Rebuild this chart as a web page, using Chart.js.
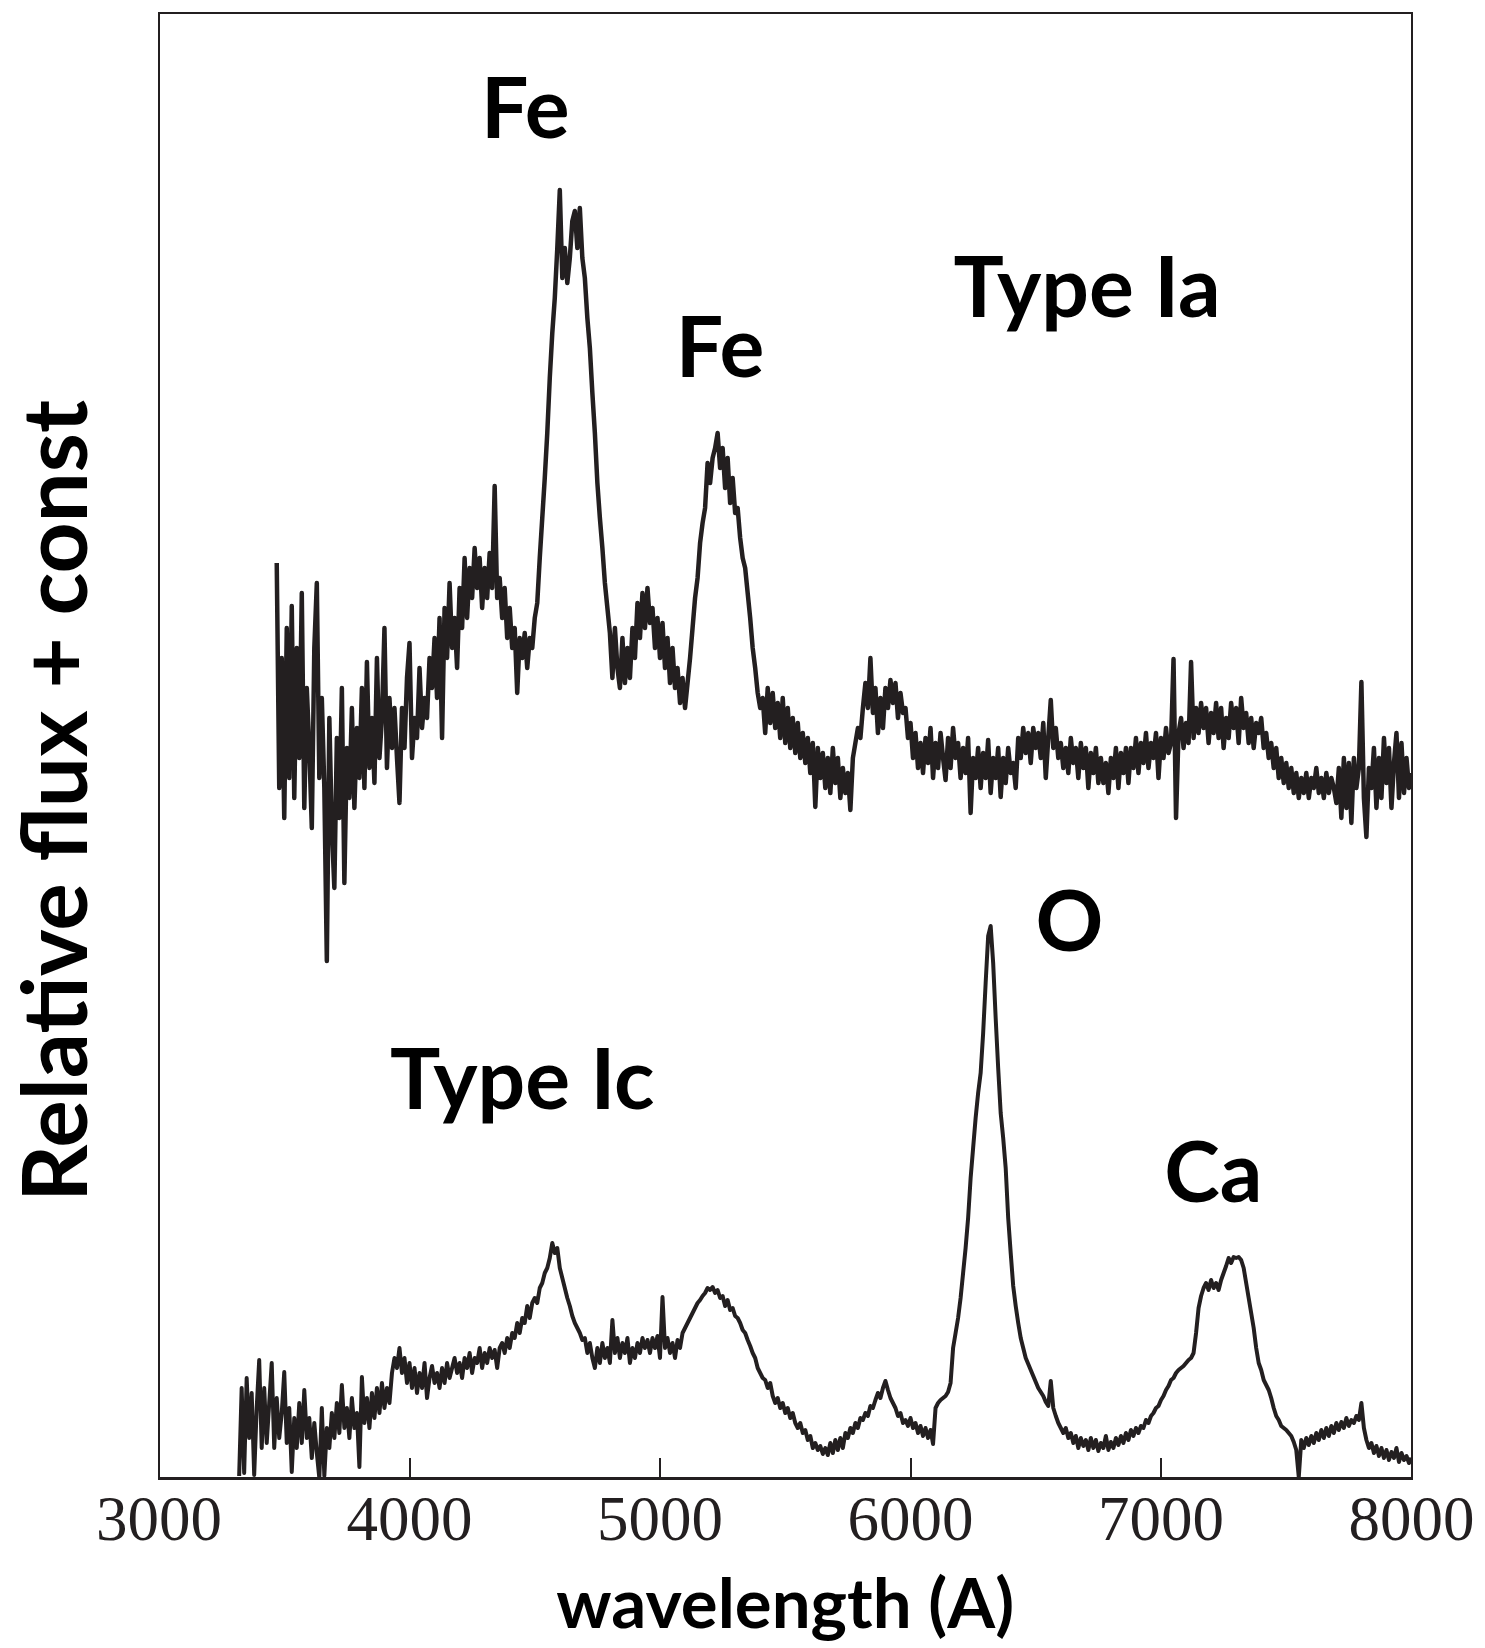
<!DOCTYPE html>
<html>
<head>
<meta charset="utf-8">
<title>Supernova spectra</title>
<script src="https://cdn.jsdelivr.net/npm/chart.js@4.4.1/dist/chart.umd.min.js"></script>
<style>
  html, body { margin: 0; padding: 0; background: #fff; }
  canvas { display: block; }
</style>
</head>
<body>
<canvas id="spectra" width="1485" height="1648"></canvas>
<script>
// both spectra are sampled on a 10 A grid
const iaStart = 3470;
const icStart = 3320;
const sampleStep = 10;

// Type Ia flux (+ const), 3470 .. 8000 A
const iaFlux = [
  9.15, 6.9, 8.2, 6.6, 8.5, 7.0, 8.72, 6.8, 8.3, 7.2,
  8.85, 6.7, 7.9, 7.3, 6.5, 8.3, 8.95, 7.0, 7.8, 6.9,
  5.17, 7.6, 6.5, 5.9, 7.4, 6.6, 7.9, 5.95, 7.3, 6.8,
  7.7, 6.7, 7.5, 7.0, 7.9, 6.9, 8.16, 7.1, 7.6, 6.95,
  8.2, 7.2, 7.6, 8.5, 7.1, 7.8, 7.3, 7.7, 7.2, 6.75,
  7.7, 7.3, 8.0, 8.35, 7.2, 7.6, 7.4, 8.1, 7.5, 7.8,
  7.6, 8.2, 7.9, 8.4, 7.8, 8.6, 7.4, 8.7, 8.2, 8.95,
  8.3, 8.6, 8.1, 8.9, 8.5, 9.2, 8.6, 9.1, 8.8, 9.3,
  8.9, 9.2, 8.7, 9.1, 8.8, 9.25, 8.9, 9.92, 8.8, 9.0,
  8.6, 8.9, 8.4, 8.7, 8.3, 8.5, 7.85, 8.4, 8.2, 8.45,
  8.1, 8.4, 8.3, 8.6, 8.75, 9.2, 9.6, 10.0, 10.45, 11.0,
  11.45, 11.8, 12.3, 12.88, 12.0, 12.3, 11.95, 12.2, 12.57, 12.67,
  12.3, 12.7, 12.2, 12.0, 11.6, 11.3, 10.85, 10.45, 9.95, 9.6,
  9.3, 8.95, 8.7, 8.45, 8.0, 8.5, 8.1, 7.9, 8.4, 7.95,
  8.3, 8.0, 8.5, 8.2, 8.75, 8.4, 8.85, 8.5, 8.9, 8.55,
  8.7, 8.3, 8.6, 8.2, 8.55, 8.1, 8.4, 7.95, 8.3, 7.9,
  8.1, 7.75, 8.0, 7.7, 7.95, 8.2, 8.5, 8.8, 9.0, 9.35,
  9.55, 9.7, 10.15, 9.95, 10.2, 10.3, 10.45, 10.1, 10.3, 9.9,
  10.2, 9.75, 10.0, 9.65, 9.7, 9.4, 9.2, 9.1, 8.85, 8.6,
  8.3, 8.1, 7.85, 7.7, 7.8, 7.45, 7.9, 7.55, 7.85, 7.5,
  7.75, 7.4, 7.8, 7.35, 7.7, 7.3, 7.6, 7.25, 7.55, 7.2,
  7.45, 7.15, 7.4, 7.05, 7.35, 6.71, 7.3, 7.0, 7.25, 6.9,
  7.2, 6.85, 7.3, 6.95, 7.2, 6.8, 7.1, 6.85, 7.05, 6.68,
  7.2, 7.35, 7.5, 7.4, 7.7, 7.95, 7.7, 8.2, 7.65, 7.9,
  7.45, 7.8, 7.5, 7.9, 7.7, 7.98, 7.75, 7.95, 7.6, 7.85,
  7.65, 7.7, 7.4, 7.55, 7.2, 7.45, 7.1, 7.35, 7.05, 7.4,
  7.15, 7.5, 7.0, 7.35, 7.1, 7.45, 7.2, 6.98, 7.4, 7.1,
  7.5, 7.2, 7.35, 7.0, 7.3, 7.05, 7.4, 6.65, 7.2, 7.0,
  7.3, 6.9, 7.25, 7.0, 7.38, 6.85, 7.2, 7.0, 7.3, 6.81,
  7.2, 6.95, 7.3, 7.05, 7.15, 6.9, 7.4, 7.2, 7.5, 7.25,
  7.45, 7.15, 7.5, 7.3, 7.45, 7.2, 7.55, 7.0, 7.4, 7.78,
  7.3, 7.5, 7.2, 7.35, 7.1, 7.3, 7.05, 7.4, 7.15, 7.3,
  7.0, 7.35, 7.1, 7.3, 6.9, 7.25, 7.05, 7.3, 6.95, 7.2,
  6.95, 7.15, 6.85, 7.2, 7.0, 7.3, 6.9, 7.25, 7.05, 7.3,
  6.95, 7.3, 7.1, 7.4, 7.05, 7.35, 7.15, 7.45, 7.1, 7.35,
  7.2, 7.45, 7.0, 7.4, 7.2, 7.5, 7.25, 7.35, 8.19, 6.6,
  7.45, 7.6, 7.3, 7.55, 7.35, 8.16, 7.4, 7.7, 7.45, 7.75,
  7.5, 7.7, 7.35, 7.65, 7.45, 7.75, 7.4, 7.7, 7.3, 7.6,
  7.4, 7.75, 7.5, 7.7, 7.35, 7.8, 7.5, 7.65, 7.35, 7.6,
  7.3, 7.55, 7.45, 7.6, 7.3, 7.45, 7.2, 7.35, 7.1, 7.3,
  7.0, 7.2, 6.95, 7.15, 6.9, 7.1, 6.85, 7.05, 6.8, 7.0,
  6.85, 7.05, 6.8, 7.0, 6.9, 7.1, 6.85, 7.0, 6.8, 7.05,
  6.85, 7.0, 6.9, 6.75, 7.1, 6.6, 7.2, 6.7, 7.15, 6.55,
  7.2, 6.9, 7.1, 7.96, 6.8, 6.41, 7.1, 6.9, 7.3, 6.7,
  7.2, 6.8, 7.4, 6.95, 7.3, 6.7, 7.15, 7.45, 6.8, 7.35,
  6.85, 7.2, 6.9, 7.05
];

// Type Ic flux, 3320 .. 8000 A
const icFlux = [
  0.02, 0.9, 0.05, 1.0, 0.4, 0.85, 0.03, 0.7, 1.18, 0.3,
  0.9, 0.35, 0.75, 1.15, 0.3, 0.8, 0.4, 0.65, 1.06, 0.35,
  0.7, 0.06, 0.6, 0.3, 0.75, 0.35, 0.88, 0.4, 0.6, 0.2,
  0.55, 0.25, 0.0, 0.7, 0.02, 0.5, 0.3, 0.65, 0.4, 0.75,
  0.45, 0.93, 0.5, 0.7, 0.4, 0.8, 0.5, 0.65, 0.11, 1.01,
  0.55, 0.8, 0.5, 0.85, 0.6, 0.9, 0.65, 0.95, 0.7, 0.9,
  0.75, 1.05, 1.2, 1.1, 1.3, 1.05, 1.2, 0.95, 1.15, 0.9,
  1.1, 0.85, 1.05, 0.9, 1.15, 0.8, 1.0, 1.12, 0.95, 1.05,
  0.9, 1.1, 0.95, 1.15, 1.0, 1.1, 1.2, 1.05, 1.15, 1.0,
  1.2, 1.1, 1.25, 1.05, 1.2, 1.15, 1.3, 1.1, 1.25, 1.15,
  1.3, 1.2, 1.28, 1.1, 1.3, 1.35, 1.25, 1.4, 1.3, 1.45,
  1.4, 1.55, 1.45, 1.6, 1.55, 1.72, 1.6, 1.75, 1.8, 1.75,
  1.9, 1.95, 2.05, 2.1, 2.2, 2.35, 2.25, 2.3, 2.1, 2.0,
  1.9, 1.8, 1.72, 1.62, 1.55, 1.5, 1.45, 1.38, 1.4, 1.25,
  1.35, 1.2, 1.1, 1.3, 1.15, 1.35, 1.2, 1.3, 1.15, 1.58,
  1.25, 1.4, 1.2, 1.35, 1.25, 1.4, 1.15, 1.3, 1.2, 1.35,
  1.25, 1.4, 1.3, 1.38, 1.25, 1.4, 1.3, 1.42, 1.2, 1.81,
  1.3, 1.4, 1.25, 1.35, 1.2, 1.38, 1.3, 1.45, 1.5, 1.55,
  1.6, 1.65, 1.7, 1.75, 1.78, 1.82, 1.85, 1.9, 1.88, 1.91,
  1.85, 1.88, 1.8, 1.82, 1.72, 1.78, 1.68, 1.7, 1.62, 1.6,
  1.55, 1.48, 1.45, 1.38, 1.32, 1.25, 1.2, 1.1, 1.05, 1.0,
  0.98, 0.9, 0.95, 0.82, 0.75, 0.8, 0.7, 0.75, 0.65, 0.7,
  0.6, 0.65, 0.55, 0.5, 0.55, 0.45, 0.48, 0.38, 0.42, 0.3,
  0.35, 0.28, 0.32, 0.24, 0.3, 0.23, 0.35, 0.25, 0.38, 0.28,
  0.4, 0.3, 0.45, 0.4, 0.5, 0.45, 0.55, 0.5, 0.6, 0.58,
  0.65, 0.62, 0.72, 0.7, 0.78, 0.85, 0.8, 0.9, 0.97, 0.88,
  0.8, 0.75, 0.7, 0.62, 0.65, 0.55, 0.58, 0.52, 0.6, 0.5,
  0.55, 0.45, 0.52, 0.42, 0.5, 0.4, 0.48, 0.34, 0.7, 0.75,
  0.78, 0.8, 0.82, 0.86, 0.95, 1.3, 1.45, 1.6, 1.8, 2.05,
  2.3, 2.6, 3.0, 3.3, 3.6, 3.85, 4.05, 4.45, 4.95, 5.42,
  5.52, 5.15, 4.6, 4.1, 3.65, 3.4, 3.1, 2.6, 2.25, 1.92,
  1.72, 1.55, 1.4, 1.3, 1.2, 1.14, 1.08, 1.02, 0.96, 0.9,
  0.86, 0.82, 0.76, 0.72, 0.97, 0.7, 0.62, 0.55, 0.5, 0.45,
  0.5, 0.4, 0.45, 0.35, 0.42, 0.3, 0.4, 0.32, 0.38, 0.28,
  0.4, 0.3, 0.38, 0.27, 0.35, 0.3, 0.42, 0.28, 0.36, 0.3,
  0.4, 0.33, 0.42, 0.35, 0.45, 0.38, 0.48, 0.42, 0.5, 0.45,
  0.52, 0.5, 0.58, 0.55, 0.62, 0.65, 0.7, 0.72, 0.78, 0.82,
  0.88, 0.92, 0.98, 1.0, 1.05, 1.08, 1.1, 1.12, 1.15, 1.18,
  1.2, 1.25, 1.45, 1.7, 1.82, 1.9, 1.95, 1.88, 1.98, 1.9,
  1.95, 1.88, 1.98, 2.05, 2.12, 2.2, 2.15, 2.21, 2.2, 2.21,
  2.18, 2.1, 1.95, 1.8, 1.65, 1.5, 1.3, 1.15, 1.08, 0.98,
  0.93, 0.88, 0.8, 0.7, 0.62, 0.58, 0.52, 0.5, 0.48, 0.45,
  0.42, 0.36, 0.28, 0.01, 0.38, 0.3, 0.4, 0.33, 0.42, 0.35,
  0.45, 0.38, 0.48, 0.4, 0.5, 0.42, 0.52, 0.45, 0.55, 0.48,
  0.56, 0.5, 0.6, 0.52, 0.58, 0.55, 0.62, 0.58, 0.75, 0.5,
  0.38, 0.3, 0.35, 0.25, 0.32, 0.22, 0.3, 0.2, 0.28, 0.18,
  0.26, 0.2, 0.3, 0.16, 0.25, 0.18, 0.22, 0.15, 0.2
];

const xTicks = [3000, 4000, 5000, 6000, 7000, 8000];

// line identifications, anchored in wavelength / flux
const lineLabels = ['Fe', 'Fe', 'Type Ia', 'O', 'Type Ic', 'Ca'];
const labelWave = [4462, 5240, 6705, 6634, 4450, 7209];
const labelFlux = [13.40, 11.01, 11.61, 5.27, 3.69, 2.76];

const yTitle = 'Relative flux + const';

const ink = '#231f20';

function toPoints(start, flux) {
    return flux.map((v, i) => ({ x: start + i * sampleStep, y: v }));
}

// text labels on the plot and the rotated y title
const labelPlugin = {
    id: 'lineLabels',
    afterDraw(chart) {
        const { ctx, scales: { x, y } } = chart;
        ctx.save();
        ctx.fillStyle = '#000';
        ctx.font = 'bold 84px Lato';
        ctx.textAlign = 'center';
        ctx.textBaseline = 'alphabetic';
        lineLabels.forEach((text, i) => {
            ctx.fillText(text, x.getPixelForValue(labelWave[i]), y.getPixelForValue(labelFlux[i]));
        });

        ctx.font = 'bold 89px Lato';
        ctx.textBaseline = 'middle';
        ctx.translate(58, 801);
        ctx.rotate(-Math.PI / 2);
        ctx.fillText(yTitle, 0, 0);
        ctx.restore();
    }
};

const ctx = document.getElementById('spectra').getContext('2d');

new Chart(ctx, {
    type: 'line',
    data: {
        datasets: [
            {
                label: 'Type Ia',
                data: toPoints(iaStart, iaFlux),
                borderColor: ink,
                borderWidth: 4.5,
                borderJoinStyle: 'round',
                pointRadius: 0,
                tension: 0,
                fill: false
            },
            {
                label: 'Type Ic',
                data: toPoints(icStart, icFlux),
                borderColor: ink,
                borderWidth: 4,
                borderJoinStyle: 'round',
                pointRadius: 0,
                tension: 0,
                fill: false
            }
        ]
    },
    options: {
        responsive: false,
        animation: false,
        events: [],
        devicePixelRatio: 1,
        layout: {
            padding: { left: 0, top: 13, right: 73.5, bottom: 0 }
        },
        plugins: {
            legend: { display: false },
            tooltip: { enabled: false }
        },
        scales: {
            x: {
                type: 'linear',
                position: 'bottom',
                min: 3000,
                max: 8000,
                afterBuildTicks: axis => {
                    axis.ticks = xTicks.map(v => ({ value: v }));
                },
                afterFit: axis => {
                    axis.height = 170;
                    axis.paddingLeft = 0;
                    axis.paddingRight = 0;
                },
                grid: {
                    drawOnChartArea: false,
                    drawTicks: true,
                    tickLength: -20,
                    lineWidth: 2,
                    color: ink
                },
                border: { display: true, color: ink, width: 3 },
                ticks: {
                    autoSkip: false,
                    maxRotation: 0,
                    padding: 28,
                    color: ink,
                    font: { family: 'Liberation Serif', size: 63 },
                    callback: value => String(value)
                },
                title: {
                    display: true,
                    text: 'wavelength (A)',
                    color: '#000',
                    font: { family: 'Lato', weight: 'bold', size: 69, lineHeight: 1 },
                    padding: { top: 0, bottom: 8 }
                }
            },
            xTop: {
                type: 'linear',
                position: 'top',
                min: 3000,
                max: 8000,
                afterFit: axis => {
                    axis.height = 0;
                },
                grid: { display: false },
                border: { display: true, color: ink, width: 2 },
                ticks: { display: false }
            },
            y: {
                type: 'linear',
                position: 'left',
                min: 0,
                max: 14.65,
                afterFit: axis => {
                    axis.width = 159;
                },
                grid: { display: false },
                border: { display: true, color: ink, width: 2 },
                ticks: { display: false }
            },
            yRight: {
                type: 'linear',
                position: 'right',
                min: 0,
                max: 14.65,
                afterFit: axis => {
                    axis.width = 0;
                },
                grid: { display: false },
                border: { display: true, color: ink, width: 2 },
                ticks: { display: false }
            }
        }
    },
    plugins: [labelPlugin]
});
</script>
</body>
</html>
